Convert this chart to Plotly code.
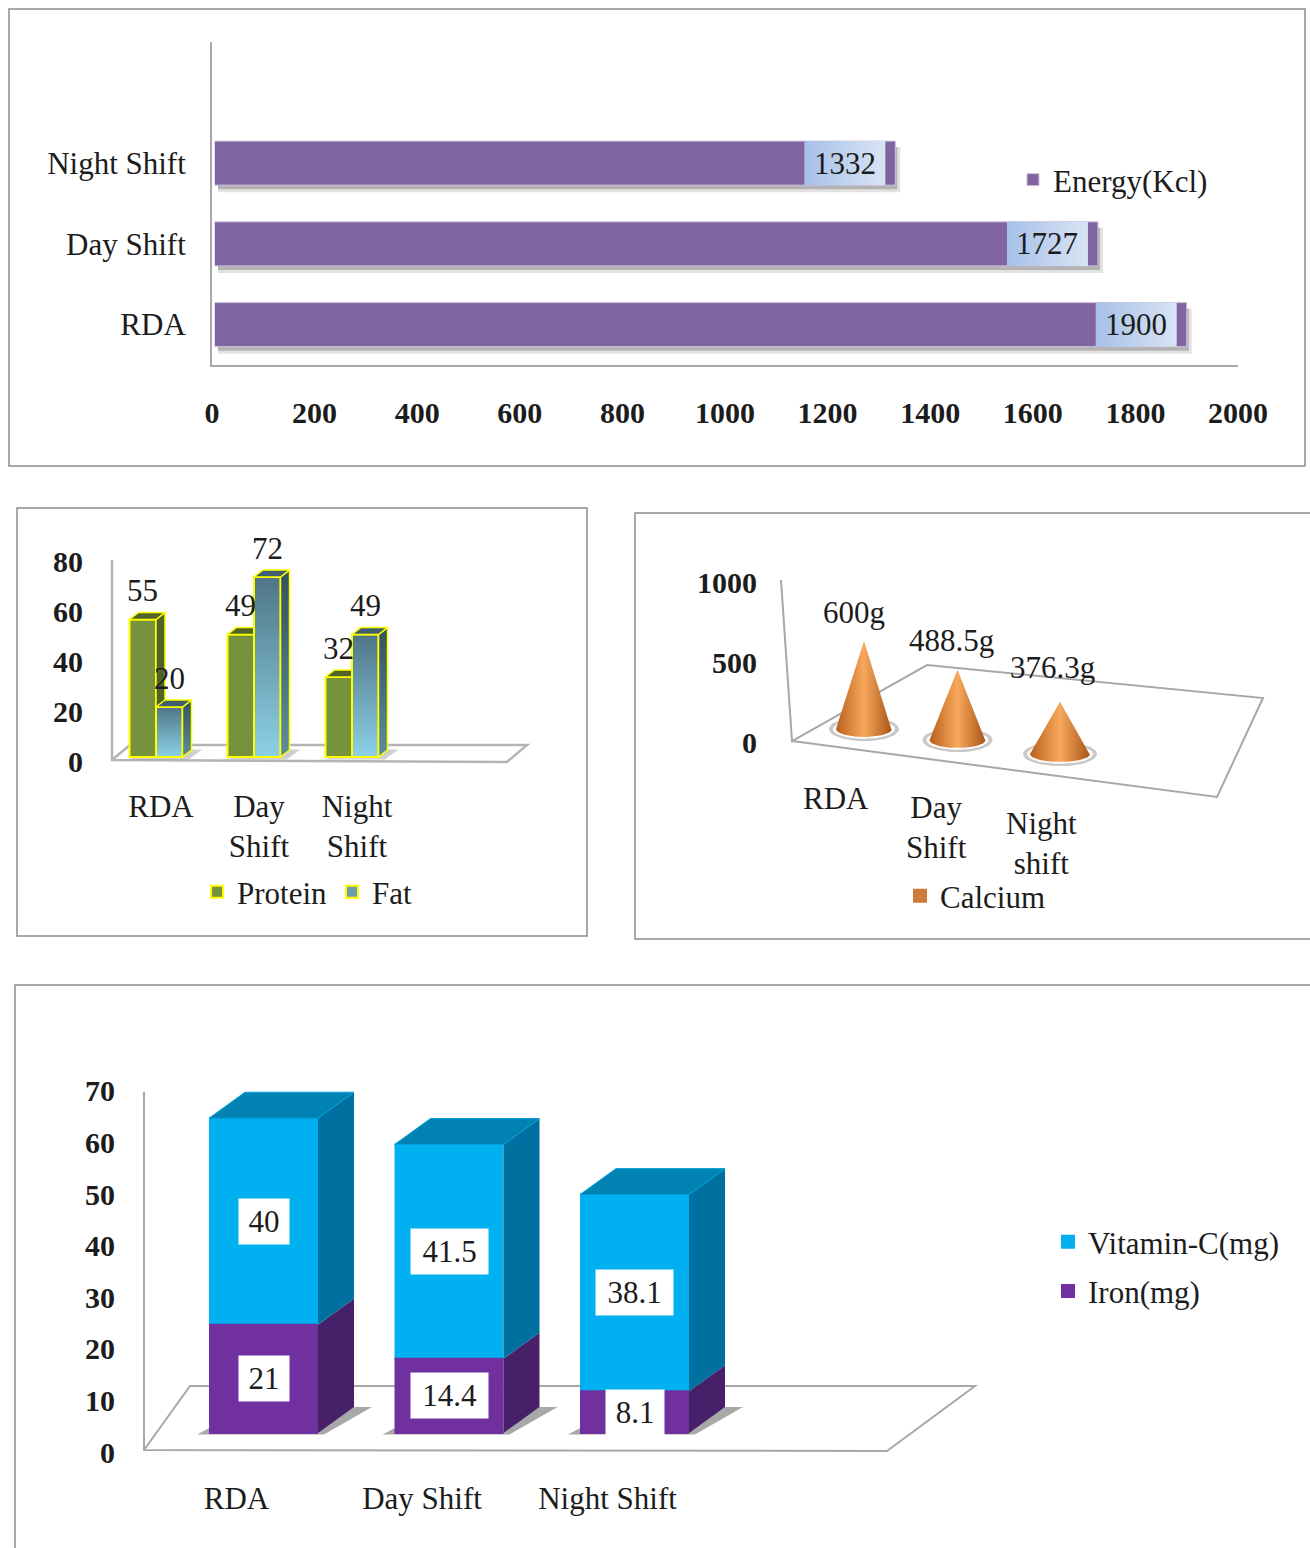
import numpy as np
import plotly.graph_objects as go

# ---------- data ----------
energy_categories = ["RDA", "Day Shift", "Night Shift"]
energy_values = [1900, 1727, 1332]
energy_ticks = [0, 200, 400, 600, 800, 1000, 1200, 1400, 1600, 1800, 2000]

macro_categories = ["RDA", "Day<br>Shift", "Night<br>Shift"]
protein_values = [55, 49, 32]
fat_values = [20, 72, 49]
macro_ticks = [0, 20, 40, 60, 80]

calcium_categories = ["RDA", "Day<br>Shift", "Night<br>shift"]
calcium_values = [600, 488.5, 376.3]
calcium_labels = ["600g", "488.5g", "376.3g"]
calcium_ticks = [0, 500, 1000]

mineral_categories = ["RDA", "Day Shift", "Night Shift"]
iron_values = [21, 14.4, 8.1]
vitamin_values = [40, 41.5, 38.1]
mineral_ticks = [0, 10, 20, 30, 40, 50, 60, 70]

# ---------- page helpers ----------
W, H = 1310, 1548
FONT = "Liberation Serif"
INK = "#1c1c1c"
GRID = "#a8a8a8"
FS = 31
FB = 30


def fx(p):
    return p / W


def fy(p):
    return 1 - p / H


def poly(xs, ys, xa, ya, fill=None, line=None, lw=0, grad=None):
    xs, ys = list(xs), list(ys)
    kw = dict(fillgradient=grad) if grad else dict(fillcolor=fill)
    return go.Scatter(
        x=xs + xs[:1], y=ys + ys[:1], xaxis=xa, yaxis=ya, mode="lines", fill="toself",
        line=dict(color=line or "rgba(0,0,0,0)", width=lw),
        hoverinfo="skip", showlegend=False, **kw,
    )


def page_path(points, color=GRID, width=2, closed=False):
    d = "M" + " L".join(f"{fx(a):.5f},{fy(b):.5f}" for a, b in points) + (" Z" if closed else "")
    return dict(type="path", path=d, xref="paper", yref="paper", layer="below",
                line=dict(color=color, width=width))


def axis_path(points, xa, ya, fill):
    d = "M" + " L".join(f"{a:.4f},{b:.4f}" for a, b in points) + " Z"
    return dict(type="path", path=d, xref=xa, yref=ya, layer="below", fillcolor=fill,
                line=dict(width=0))


fig = go.Figure()
shapes = []
annotations = []

# panel frames
FRAME = "#8c8c8c"
shapes.append(page_path([(9, 9), (1305, 9), (1305, 466), (9, 466)], FRAME, 1.5, True))
shapes.append(page_path([(17, 508), (587, 508), (587, 936), (17, 936)], FRAME, 1.5, True))
shapes.append(page_path([(1320, 513), (635, 513), (635, 939), (1320, 939)], FRAME, 1.5))
shapes.append(page_path([(1320, 985), (15, 985), (15, 1560)], FRAME, 1.5))

tick_font = dict(family=FONT, size=FB, color=INK, weight=700)
cat_font = dict(family=FONT, size=FS, color=INK)
lab_font = dict(family=FONT, size=FS, color=INK)

# ---------- panel 1: energy ----------
P1X = 1026 / 2000  # px per unit
P1Y = 80.75
idx = [0, 1, 2]
BAR1 = 0.545
fig.add_bar(y=idx, x=energy_values, orientation="h", width=BAR1, name="Energy(Kcl)",
            marker=dict(color="#8064A2", line=dict(color="#CCC0DA", width=1)),
            legend="legend", xaxis="x", yaxis="y", hoverinfo="skip")
for i, v in zip(idx, energy_values):
    h = BAR1 / 2
    # soft shadow under and right of the bar
    for spread, alpha in ((7, 0.2), (4, 0.4)):
        shapes.append(axis_path([(6 / P1X, i - h - spread / P1Y), (v + (spread - 2) / P1X, i - h - spread / P1Y),
                                 (v + (spread - 2) / P1X, i + h - 6 / P1Y), (v, i + h - 6 / P1Y),
                                 (v, i - h), (6 / P1X, i - h)], "x", "y", f"rgba(110,110,110,{alpha})"))
    bx1 = v - 10 / P1X
    bx0 = bx1 - 81 / P1X
    fig.add_trace(poly([bx0, bx1, bx1, bx0], [i - h, i - h, i + h, i + h], "x", "y",
                       grad=dict(type="horizontal",
                                 colorscale=[[0, "#A6C0E8"], [1, "#D9E4F4"]])))
    annotations.append(dict(x=(bx0 + bx1) / 2, y=i, xref="x", yref="y", text=str(v), showarrow=False,
                            font=lab_font))
# small white gap between the axis and the bar starts
fig.add_trace(go.Scatter(x=[2.5, 2.5], y=[-0.4, 2.4], xaxis="x", yaxis="y", mode="lines",
                         line=dict(color="white", width=3), hoverinfo="skip", showlegend=False))

# ---------- panel 2: protein and fat ----------
C2, S2, Z2, K2 = 156, 98, 757, 2.5
BW2 = 26.5 / S2
DX2, DY2 = 9 / S2, 7 / K2
YEL = "#FFFF00"
cats2 = [0, 1, 2]
fig.add_bar(x=cats2, y=protein_values, width=BW2, offset=-BW2, name="Protein",
            marker=dict(color="#76923C", line=dict(color=YEL, width=2)),
            xaxis="x2", yaxis="y2", legend="legend2", hoverinfo="skip")
fig.add_bar(x=cats2, y=fat_values, width=BW2, offset=0, name="Fat",
            marker=dict(color="#6A9DB0", line=dict(color=YEL, width=2)),
            xaxis="x2", yaxis="y2", legend="legend2", hoverinfo="skip")
for i in cats2:
    p, f = protein_values[i], fat_values[i]
    a, b, c = i - BW2, i, i + BW2
    shapes.append(axis_path([(a - 4 / S2, -1), (c + 6 / S2, -1), (c + 20 / S2, 3), (c, 3)], "x2", "y2",
                            "rgba(150,150,150,0.45)"))
    fig.add_trace(poly([b, b + DX2, b + DX2, b], [0, DY2, p + DY2, p], "x2", "y2", "#4F6228", YEL, 1.5))
    fig.add_trace(poly([a, b, b + DX2, a + DX2], [p, p, p + DY2, p + DY2], "x2", "y2", "#4F6228", YEL, 1.5))
    fig.add_trace(poly([b, c, c, b], [0, 0, f, f], "x2", "y2", line=YEL, lw=2,
                       grad=dict(type="vertical", colorscale=[[0, "#8DD1E6"], [1, "#4F7587"]])))
    fig.add_trace(poly([c, c + DX2, c + DX2, c], [0, DY2, f + DY2, f], "x2", "y2", line=YEL, lw=1.5,
                       grad=dict(type="vertical", colorscale=[[0, "#5C8F9F"], [1, "#34505E"]])))
    fig.add_trace(poly([b, c, c + DX2, b + DX2], [f, f, f + DY2, f + DY2], "x2", "y2", "#3F5F6E", YEL, 1.5))
    for xc, val in ((i - BW2 / 2, p), (i + BW2 / 2, f)):
        annotations.append(dict(x=xc, y=val, xref="x2", yref="y2", text=str(val), showarrow=False,
                                yshift=29, font=lab_font))
shapes.append(page_path([(112, 560), (112, 760), (507, 762), (527, 745), (130, 745), (112, 760)], "#b4b4b4", 2.5))

# ---------- panel 3: calcium cones ----------
C3, S3, Z3, K3 = 862, 98.5, 742, 0.16
FOOT3 = [737, 748, 762]      # cone foot, page px (receding floor)
XOFF3 = [2, -3, 1]           # cone centre nudges, px
HALF3 = [28, 28, 30]
RY3 = 8
shapes.append(page_path([(781, 580), (792, 741), (927, 665), (1263, 698), (1217, 797), (792, 741)], GRID, 2))
fig.add_bar(x=[0, 1, 2], y=[None, None, None], name="Calcium",
            marker=dict(color="#CD7B3A", line=dict(color="#CD7B3A", width=2)),
            xaxis="x3", yaxis="y3", legend="legend3", hoverinfo="skip")
t = np.linspace(0, np.pi, 40)
for i, v in enumerate(calcium_values):
    foot = (Z3 - FOOT3[i]) / K3
    cy = foot + RY3 / K3
    hw = HALF3[i] / S3
    ry = RY3 / K3
    xc = i + XOFF3[i] / S3
    for pad, col in ((7, "rgba(120,120,120,0.4)"), (3, "#ffffff")):
        th = np.linspace(0, 2 * np.pi, 60)
        fig.add_trace(poly(xc + (hw + pad / S3) * np.cos(th), cy + (ry + pad * 0.6 / K3) * np.sin(th),
                           "x3", "y3", col))
    xs = [xc] + list(xc + hw * np.cos(t))
    ys = [foot + v] + list(cy - ry * np.sin(t))
    fig.add_trace(poly(xs, ys, "x3", "y3",
                       grad=dict(type="horizontal",
                                 colorscale=[[0, "#B8601E"], [0.5, "#F8A85C"], [1, "#A9561A"]])))
    annotations.append(dict(x=xc, y=foot + v, xref="x3", yref="y3", text=calcium_labels[i], showarrow=False,
                            xshift=[-10, -6, -8][i], yshift=[28, 29, 34][i], font=lab_font))
    annotations.append(dict(x=i, y=fy([798, 828, 843][i]), xref="x3", yref="paper",
                            text=calcium_categories[i], showarrow=False,
                            xshift=[-26, -24, -18][i], font=lab_font))

# ---------- panel 4: iron and vitamin C ----------
C4, S4, Z4, K4 = 263.5, 185.5, 1433, 5.16
BW4 = 109 / S4
BAR4 = 107 / S4     # drawn width; the 2px outline brings it to BW4
DX4, DY4 = 36 / S4, 26 / K4
cats4 = [0, 1, 2]
shapes.append(page_path([(144, 1092), (144, 1450), (887, 1451), (975, 1386), (190, 1386), (144, 1450)], GRID, 2))
fig.add_bar(x=cats4, y=vitamin_values, base=iron_values, width=BAR4, name="Vitamin-C(mg)",
            marker=dict(color="#00B0F0", line=dict(color="#00B0F0", width=2)), xaxis="x4", yaxis="y4",
            legend="legend4", legendgroup="vit", hoverinfo="skip")
fig.add_bar(x=cats4, y=iron_values, width=BAR4, name="Iron(mg)",
            marker=dict(color="#7030A0", line=dict(color="#7030A0", width=2)), xaxis="x4", yaxis="y4",
            legend="legend4", legendgroup="iron", hoverinfo="skip")
for i in cats4:
    fe, vc = iron_values[i], vitamin_values[i]
    top = fe + vc
    a, c = i - BW4 / 2, i + BW4 / 2
    shapes.append(axis_path([(a - 12 / S4, -0.3), (c + 6 / S4, -0.3), (c + DX4 + 18 / S4, DY4), (c + DX4, DY4),
                             (c, 0.5), (a, 0.9)], "x4", "y4", "rgba(110,110,110,0.6)"))
    fig.add_trace(poly([c, c + DX4, c + DX4, c], [0, DY4, fe + DY4, fe], "x4", "y4", "#47206A"))
    fig.add_trace(poly([c, c + DX4, c + DX4, c], [fe, fe + DY4, top + DY4, top], "x4", "y4", "#0070A0"))
    fig.add_trace(poly([a, c, c + DX4, a + DX4], [top, top, top + DY4, top + DY4], "x4", "y4", "#0083B3",
                       "#00A0DC", 1))
    for val, mid in ((fe, fe / 2), (vc, fe + vc / 2)):
        txt = str(val)
        annotations.append(dict(x=i, y=mid, xref="x4", yref="y4", text=txt, showarrow=False,
                                width={2: 48, 3: 56, 4: 75}[len(txt)], height=43, bgcolor="white",
                                font=lab_font))


def y_axis(anchor, top, bottom, rng, vals, standoff, shift=0):
    return dict(domain=[fy(bottom), fy(top)], range=rng, anchor=anchor, tickmode="array", tickvals=vals,
                ticks="", showgrid=False, zeroline=False, showline=False, tickfont=tick_font,
                ticklabelstandoff=standoff, ticklabelshift=shift)


def x_axis(anchor, left, right, rng, vals, text, standoff, shift=0, font=cat_font, show=True):
    return dict(domain=[fx(left), fx(right)], range=rng, anchor=anchor, tickmode="array", tickvals=vals,
                ticktext=text, ticks="", showgrid=False, zeroline=False, showline=False, tickfont=font,
                ticklabelstandoff=standoff, ticklabelshift=shift, showticklabels=show)


layout = dict(
    width=W, height=H, margin=dict(l=0, r=0, t=0, b=0, autoexpand=False),
    paper_bgcolor="white", plot_bgcolor="rgba(0,0,0,0)",
    barmode="overlay", shapes=shapes, annotations=annotations, showlegend=True,
    xaxis=dict(domain=[fx(212), fx(1238)], range=[0, 2000], anchor="y", tickmode="array", tickvals=energy_ticks,
               ticks="", showgrid=False, zeroline=False, showline=True, linecolor=GRID, linewidth=2,
               tickfont=tick_font, ticklabelstandoff=20),
    yaxis=dict(domain=[fy(365), fy(42)], range=[-0.5, 3.5], anchor="x", tickmode="array", tickvals=idx,
               ticktext=energy_categories, ticks="", showgrid=False, zeroline=False, showline=True,
               linecolor=GRID, linewidth=2, tickfont=cat_font, ticklabelstandoff=18),
    xaxis2=x_axis("y2", 112, 530, [(112 - C2) / S2, (530 - C2) / S2], cats2, macro_categories, 20, 5),
    yaxis2=y_axis("x2", 555, 765, [(Z2 - 765) / K2, (Z2 - 555) / K2], macro_ticks, 28, 4),
    xaxis3=x_axis("y3", 781, 1270, [(781 - C3) / S3, (1270 - C3) / S3], [0, 1, 2], ["", "", ""], 0, show=False),
    yaxis3=y_axis("x3", 575, 805, [(Z3 - 805) / K3, (Z3 - 575) / K3], calcium_ticks, 23),
    xaxis4=x_axis("y4", 144, 985, [(144 - C4) / S4, (985 - C4) / S4], cats4, mineral_categories, 22, -27),
    yaxis4=y_axis("x4", 1068, 1455, [(Z4 - 1455) / K4, (Z4 - 1068) / K4], mineral_ticks, 28, 19),
    legend=dict(x=fx(1013), y=fy(153), xanchor="left", yanchor="top", bgcolor="rgba(0,0,0,0)",
                font=lab_font),
    legend2=dict(x=fx(197), y=fy(865), xanchor="left", yanchor="top", orientation="h", bgcolor="rgba(0,0,0,0)",
                 font=lab_font),
    legend3=dict(x=fx(900), y=fy(869), xanchor="left", yanchor="top", bgcolor="rgba(0,0,0,0)",
                 font=lab_font),
    legend4=dict(x=fx(1048), y=fy(1215), xanchor="left", yanchor="top", bgcolor="rgba(0,0,0,0)", tracegroupgap=6,
                 font=lab_font),
)
fig.update_layout(**layout)

fig.write_html("out.html", config=dict(displayModeBar=False),
               post_script="document.body.style.margin='0';document.body.style.overflow='hidden';")
